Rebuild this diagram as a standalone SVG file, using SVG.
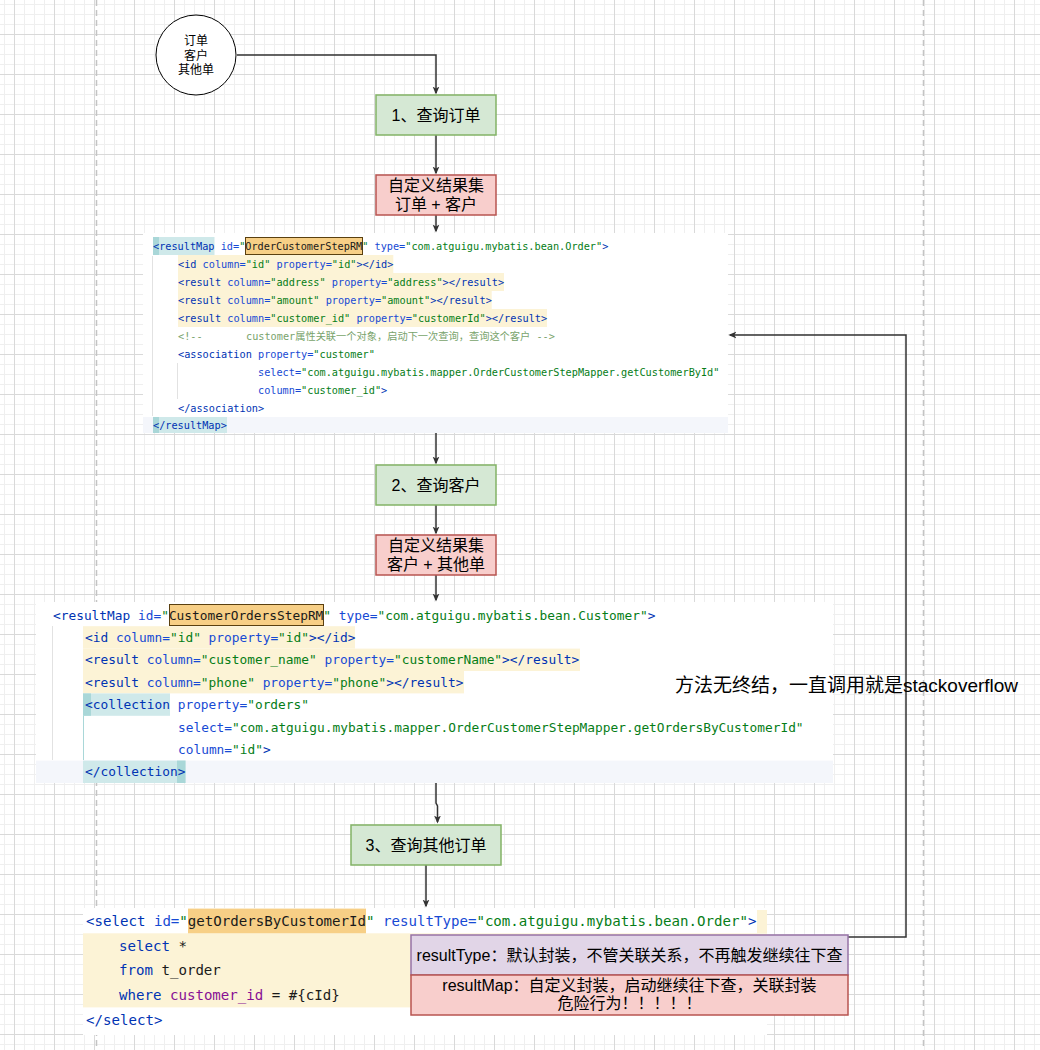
<svg xmlns="http://www.w3.org/2000/svg" width="1040" height="1050" viewBox="0 0 1040 1050">
<defs>
<pattern id="grid" x="14" y="34" width="40" height="40" patternUnits="userSpaceOnUse">
<path d="M10.5 0V40M20.5 0V40M30.5 0V40M0 10.5H40M0 20.5H40M0 30.5H40" stroke="#efefef" stroke-width="1" fill="none"/>
<path d="M0.5 0V40M0 0.5H40" stroke="#d9d9d9" stroke-width="1" fill="none"/>
</pattern>
<marker id="arr" viewBox="0 0 10 10" refX="8" refY="5" markerWidth="8" markerHeight="8" markerUnits="userSpaceOnUse" orient="auto">
<path d="M0,0.8 L10,5 L0,9.2 L2.5,5 z" fill="#333"/>
</marker>
<style>
.code1{font-family:"DejaVu Sans Mono","Noto Sans CJK SC",monospace;font-size:10.22px;white-space:pre}
.code2{font-family:"DejaVu Sans Mono","Noto Sans CJK SC",monospace;font-size:12.84px;white-space:pre}
.code3{font-family:"DejaVu Sans Mono","Noto Sans CJK SC",monospace;font-size:14.1px;white-space:pre}
.t{fill:#0033b3}.a{fill:#174ad4}.v{fill:#067d17}.d{fill:#1a1a1a}.cm{fill:#78a36b}.p{fill:#871094}
.lbl{font-family:"Liberation Sans","Noto Sans CJK SC",sans-serif;fill:#000;text-anchor:middle}
.yl{fill:#fcf3d6}.tl{fill:#cfe9ea}.tld{fill:#a9d7d8}.or{fill:#f7cf86;stroke:#5a4010;stroke-width:1}.band{fill:#f4f6fb}
.guide{stroke:#e2e2e2;stroke-width:1}
.conn{fill:none;stroke:#333;stroke-width:1.5}
.green{fill:#d5e8d4;stroke:#82b366;stroke-width:1.5}
.red{fill:#f8cecc;stroke:#b85450;stroke-width:1.5}
.purple{fill:#e1d5e7;stroke:#9673a6;stroke-width:1.5}
</style>
</defs>
<rect width="1040" height="1050" fill="#fff"/>
<rect width="1040" height="1050" fill="url(#grid)"/>
<path d="M96.5 0V1050M923.5 0V1050" stroke="#c4c4c4" stroke-width="1.5" stroke-dasharray="6 4" fill="none"/>

<g id="code-order-resultmap">
<rect x="143" y="233" width="585" height="200" fill="#fff"/>
<rect class="band" x="143" y="417" width="585" height="16"/>
<rect class="tl" x="153" y="237" width="61.5" height="18"/>
<rect class="tld" x="153" y="237" width="6" height="18"/>
<rect class="or" x="245.5" y="237.5" width="117" height="17"/>
<rect class="yl" x="178" y="255" width="215.3" height="18"/>
<rect class="yl" x="178" y="273" width="326" height="18"/>
<rect class="yl" x="178" y="291" width="313.7" height="18"/>
<rect class="yl" x="178" y="309" width="369" height="18"/>
<rect class="tl" x="153" y="417" width="74" height="16"/>
<rect class="tld" x="153" y="417" width="6" height="16"/>
<line class="guide" x1="152.5" y1="256" x2="152.5" y2="416"/>
<line class="guide" x1="177.5" y1="363" x2="177.5" y2="399"/>
<g class="code1" xml:space="preserve">
<text x="153" y="249.5"><tspan class="t">&lt;resultMap</tspan><tspan class="a"> id=</tspan><tspan class="v">"</tspan><tspan class="d">OrderCustomerStepRM</tspan><tspan class="v">"</tspan><tspan class="a"> type=</tspan><tspan class="v">"com.atguigu.mybatis.bean.Order"</tspan><tspan class="t">&gt;</tspan></text>
<text x="178" y="267.5"><tspan class="t">&lt;id</tspan><tspan class="a"> column=</tspan><tspan class="v">"id"</tspan><tspan class="a"> property=</tspan><tspan class="v">"id"</tspan><tspan class="t">&gt;&lt;/id&gt;</tspan></text>
<text x="178" y="285.5"><tspan class="t">&lt;result</tspan><tspan class="a"> column=</tspan><tspan class="v">"address"</tspan><tspan class="a"> property=</tspan><tspan class="v">"address"</tspan><tspan class="t">&gt;&lt;/result&gt;</tspan></text>
<text x="178" y="303.5"><tspan class="t">&lt;result</tspan><tspan class="a"> column=</tspan><tspan class="v">"amount"</tspan><tspan class="a"> property=</tspan><tspan class="v">"amount"</tspan><tspan class="t">&gt;&lt;/result&gt;</tspan></text>
<text x="178" y="321.5"><tspan class="t">&lt;result</tspan><tspan class="a"> column=</tspan><tspan class="v">"customer_id"</tspan><tspan class="a"> property=</tspan><tspan class="v">"customerId"</tspan><tspan class="t">&gt;&lt;/result&gt;</tspan></text>
<text x="178" y="339.5" class="cm">&lt;!--</text>
<text x="246" y="339.5" class="cm">customer属性关联一个对象，启动下一次查询，查询这个客户 --&gt;</text>
<text x="178" y="357.5"><tspan class="t">&lt;association</tspan><tspan class="a"> property=</tspan><tspan class="v">"customer"</tspan></text>
<text x="258" y="375.5"><tspan class="a">select=</tspan><tspan class="v">"com.atguigu.mybatis.mapper.OrderCustomerStepMapper.getCustomerById"</tspan></text>
<text x="258" y="393.5"><tspan class="a">column=</tspan><tspan class="v">"customer_id"</tspan><tspan class="t">&gt;</tspan></text>
<text x="178" y="411.5" class="t">&lt;/association&gt;</text>
<text x="153" y="428.5" class="t">&lt;/resultMap&gt;</text>
</g>
</g>

<g id="code-customer-resultmap">
<rect x="36" y="602" width="797" height="181" fill="#fff"/>
<rect class="band" x="36" y="760.6" width="797" height="22.4"/>
<rect class="or" x="169.5" y="604.5" width="154" height="21"/>
<rect class="yl" x="83" y="626.2" width="272" height="22.4"/>
<rect class="yl" x="83" y="648.6" width="497" height="22.4"/>
<rect class="yl" x="83" y="671" width="381" height="22.4"/>
<rect class="tl" x="83" y="693.4" width="87" height="22.4"/>
<rect class="tld" x="83" y="693.4" width="8" height="22.4"/>
<rect class="tl" x="83" y="760.6" width="102.5" height="22.4"/>
<rect class="tld" x="177" y="760.6" width="8.5" height="22.4"/>
<line class="guide" x1="52.5" y1="626" x2="52.5" y2="760"/>
<line x1="83.5" y1="716" x2="83.5" y2="760" stroke="#a9d7d8" stroke-width="1"/>
<g class="code2" xml:space="preserve">
<text x="53" y="619.5"><tspan class="t">&lt;resultMap</tspan><tspan class="a"> id=</tspan><tspan class="v">"</tspan><tspan class="d">CustomerOrdersStepRM</tspan><tspan class="v">"</tspan><tspan class="a"> type=</tspan><tspan class="v">"com.atguigu.mybatis.bean.Customer"</tspan><tspan class="t">&gt;</tspan></text>
<text x="85" y="641.9"><tspan class="t">&lt;id</tspan><tspan class="a"> column=</tspan><tspan class="v">"id"</tspan><tspan class="a"> property=</tspan><tspan class="v">"id"</tspan><tspan class="t">&gt;&lt;/id&gt;</tspan></text>
<text x="85" y="664.3"><tspan class="t">&lt;result</tspan><tspan class="a"> column=</tspan><tspan class="v">"customer_name"</tspan><tspan class="a"> property=</tspan><tspan class="v">"customerName"</tspan><tspan class="t">&gt;&lt;/result&gt;</tspan></text>
<text x="85" y="686.7"><tspan class="t">&lt;result</tspan><tspan class="a"> column=</tspan><tspan class="v">"phone"</tspan><tspan class="a"> property=</tspan><tspan class="v">"phone"</tspan><tspan class="t">&gt;&lt;/result&gt;</tspan></text>
<text x="85" y="709.1"><tspan class="t">&lt;collection</tspan><tspan class="a"> property=</tspan><tspan class="v">"orders"</tspan></text>
<text x="178" y="731.5"><tspan class="a">select=</tspan><tspan class="v">"com.atguigu.mybatis.mapper.OrderCustomerStepMapper.getOrdersByCustomerId"</tspan></text>
<text x="178" y="753.9"><tspan class="a">column=</tspan><tspan class="v">"id"</tspan><tspan class="t">&gt;</tspan></text>
<text x="85" y="776.3" class="t">&lt;/collection&gt;</text>
</g>
</g>

<g id="code-select">
<rect x="83" y="908" width="684" height="127" fill="#fff"/>
<rect class="yl" x="83" y="933.3" width="684" height="74.1"/>
<rect class="yl" x="757" y="910" width="10" height="23.3"/>
<rect fill="#f7cf86" x="188" y="908.6" width="178" height="24.7"/>
<g class="code3" xml:space="preserve">
<text x="86" y="926"><tspan class="t">&lt;select</tspan><tspan class="a"> id=</tspan><tspan class="v">"</tspan><tspan class="d">getOrdersByCustomerId</tspan><tspan class="v">"</tspan><tspan class="a"> resultType=</tspan><tspan class="v">"com.atguigu.mybatis.bean.Order"</tspan><tspan class="t">&gt;</tspan></text>
<text x="119" y="950.7"><tspan class="t">select</tspan><tspan class="d"> *</tspan></text>
<text x="119" y="975.4"><tspan class="t">from</tspan><tspan class="d"> t_order</tspan></text>
<text x="119" y="1000.1"><tspan class="t">where</tspan><tspan class="d"> </tspan><tspan class="p">customer_id</tspan><tspan class="d"> = #{cId}</tspan></text>
<text x="86" y="1024.8" class="t">&lt;/select&gt;</text>
</g>
</g>

<g id="connectors">
<path class="conn" marker-end="url(#arr)" d="M237 55H436V93"/>
<path class="conn" marker-end="url(#arr)" d="M436 135V173"/>
<path class="conn" marker-end="url(#arr)" d="M436 215V231"/>
<path class="conn" marker-end="url(#arr)" d="M436 433V463"/>
<path class="conn" marker-end="url(#arr)" d="M436 505V533"/>
<path class="conn" marker-end="url(#arr)" d="M436 575V600"/>
<path class="conn" marker-end="url(#arr)" d="M436 783V803L437.5 806V822"/>
<path class="conn" marker-end="url(#arr)" d="M426 865V906"/>
<path class="conn" marker-end="url(#arr)" d="M848 937H906V335H730"/>
</g>

<g id="start">
<circle cx="196" cy="55" r="40" fill="#fff" stroke="#000" stroke-width="1"/>
<text class="lbl" font-size="12" x="196" y="45">订单</text>
<text class="lbl" font-size="12" x="196" y="59.5">客户</text>
<text class="lbl" font-size="12" x="196" y="74">其他单</text>
</g>
<g id="q1">
<rect class="green" x="376" y="95" width="120" height="40"/>
<text class="lbl" font-size="16" x="436" y="120.5">1、查询订单</text>
</g>
<g id="rs1">
<rect class="red" x="376" y="175" width="120" height="40"/>
<text class="lbl" font-size="16" x="436" y="191">自定义结果集</text>
<text class="lbl" font-size="16" x="436" y="210">订单 + 客户</text>
</g>
<g id="q2">
<rect class="green" x="376" y="465" width="120" height="40"/>
<text class="lbl" font-size="16" x="436" y="490.5">2、查询客户</text>
</g>
<g id="rs2">
<rect class="red" x="376" y="535" width="120" height="40"/>
<text class="lbl" font-size="16" x="436" y="551">自定义结果集</text>
<text class="lbl" font-size="16" x="436" y="570">客户 + 其他单</text>
</g>
<g id="q3">
<rect class="green" x="351" y="825" width="150" height="40"/>
<text class="lbl" font-size="16" x="426" y="850.5">3、查询其他订单</text>
</g>
<g id="note-resulttype">
<rect class="purple" x="411" y="935" width="437" height="40"/>
<text class="lbl" font-size="16" x="629.5" y="960.5">resultType：默认封装，不管关联关系，不再触发继续往下查</text>
</g>
<g id="note-resultmap">
<rect class="red" x="411" y="975" width="437" height="40"/>
<text class="lbl" font-size="16" x="629.5" y="991">resultMap：自定义封装，启动继续往下查，关联封装</text>
<text class="lbl" font-size="16" x="629.5" y="1009">危险行为！！！！！</text>
</g>
<g id="note-stackoverflow">
<text font-family="'Liberation Sans','Noto Sans CJK SC',sans-serif" font-size="19" x="675" y="691.5" fill="#000">方法无终结，一直调用就是stackoverflow</text>
</g>
</svg>
